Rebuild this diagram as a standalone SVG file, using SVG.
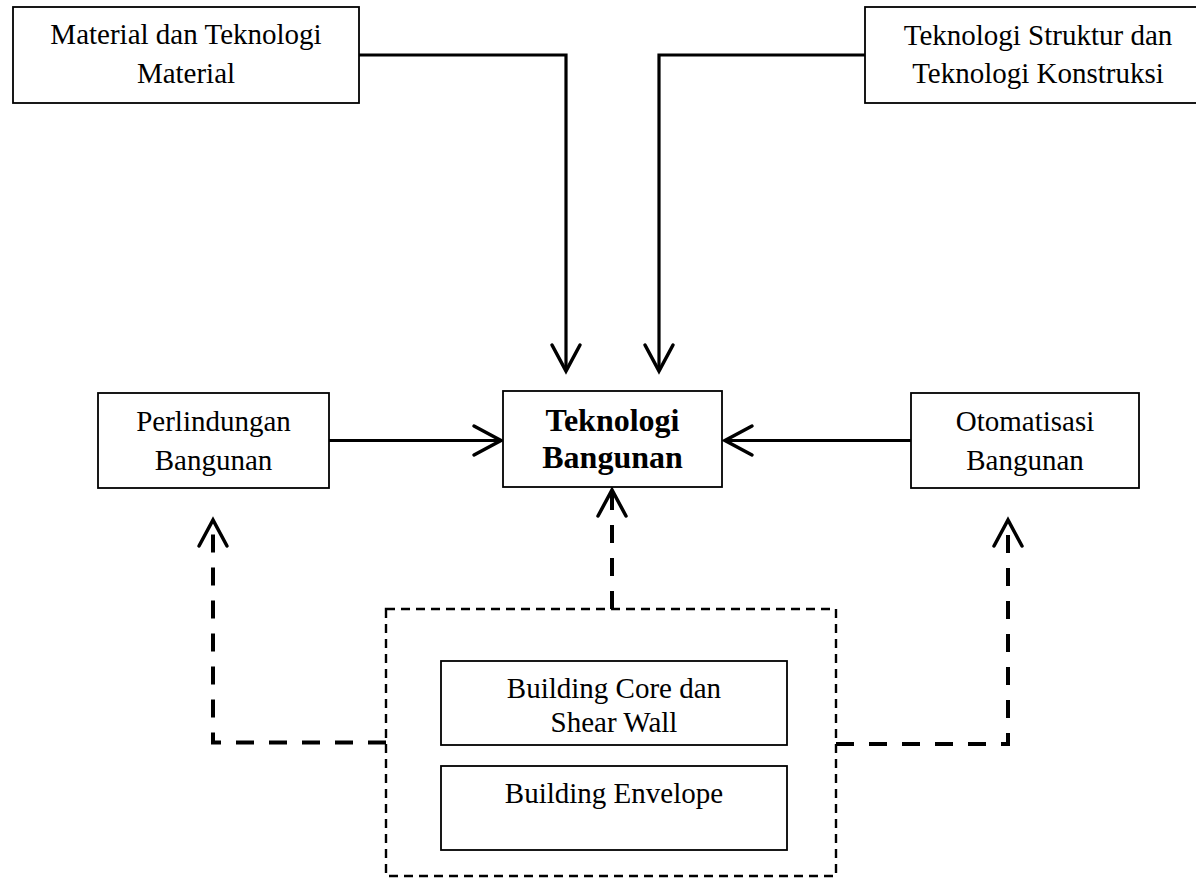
<svg xmlns="http://www.w3.org/2000/svg" width="1196" height="878" viewBox="0 0 1196 878">
<style>
.box{fill:#fff;stroke:#000;stroke-width:1.8}
.t{font-family:"Liberation Serif","Times New Roman",serif;font-size:29px;fill:#000;text-anchor:middle}
.tb{font-family:"Liberation Serif","Times New Roman",serif;font-size:32px;font-weight:bold;fill:#000;text-anchor:middle}
.solid{fill:none;stroke:#000;stroke-width:3.2}
.dash{fill:none;stroke:#000;stroke-width:4;stroke-dasharray:18 15}
.head{fill:none;stroke:#000;stroke-width:3.5;stroke-linecap:round;stroke-linejoin:miter}
.dbox{fill:none;stroke:#000;stroke-width:2.4;stroke-dasharray:9 6}
</style>
<rect width="1196" height="878" fill="#fff"/>
<g id="connectors">
<path class="solid" d="M359 55 H566 V370"/>
<path class="head" d="M552 345 L566 371 L580 345"/>
<path class="solid" d="M865 55 H659 V370"/>
<path class="head" d="M645 345 L659 371 L673 345"/>
<path class="solid" d="M329 440.5 H500"/>
<path class="head" d="M474 426 L501 440.5 L474 455"/>
<path class="solid" d="M911 440.5 H727"/>
<path class="head" d="M752 426 L725 440.5 L752 455"/>
<path class="dash" d="M612 609 V492"/>
<path class="head" d="M598 516 L612 490 L626 516"/>
<path class="dash" d="M386 742.5 H213 V522"/>
<path class="head" d="M199 546 L213 520 L227 546"/>
<path class="dash" d="M836 744 H1008 V522"/>
<path class="head" d="M994 546 L1008 520 L1022 546"/>
</g>
<g id="n-material">
<rect class="box" x="13" y="7" width="346" height="96"/>
<text class="t" x="186" y="44">Material dan Teknologi</text>
<text class="t" x="186" y="83">Material</text>
</g>
<g id="n-struktur">
<rect class="box" x="865" y="7" width="348" height="96"/>
<text class="t" x="1038" y="45">Teknologi Struktur dan</text>
<text class="t" x="1038" y="83">Teknologi Konstruksi</text>
</g>
<g id="n-teknologi">
<rect class="box" x="503" y="391" width="219" height="96"/>
<text class="tb" x="612.5" y="431">Teknologi</text>
<text class="tb" x="612.5" y="468">Bangunan</text>
</g>
<g id="n-perlindungan">
<rect class="box" x="98" y="393" width="231" height="95"/>
<text class="t" x="213.5" y="431">Perlindungan</text>
<text class="t" x="213.5" y="470">Bangunan</text>
</g>
<g id="n-otomatisasi">
<rect class="box" x="911" y="393" width="228" height="95"/>
<text class="t" x="1025" y="431">Otomatisasi</text>
<text class="t" x="1025" y="470">Bangunan</text>
</g>
<g id="n-group">
<rect class="dbox" x="386" y="609" width="450" height="267"/>
</g>
<g id="n-core">
<rect class="box" x="441" y="661" width="346" height="84"/>
<text class="t" x="614" y="698">Building Core dan</text>
<text class="t" x="614" y="732">Shear Wall</text>
</g>
<g id="n-envelope">
<rect class="box" x="441" y="766" width="346" height="84"/>
<text class="t" x="614" y="803">Building Envelope</text>
</g>
</svg>
